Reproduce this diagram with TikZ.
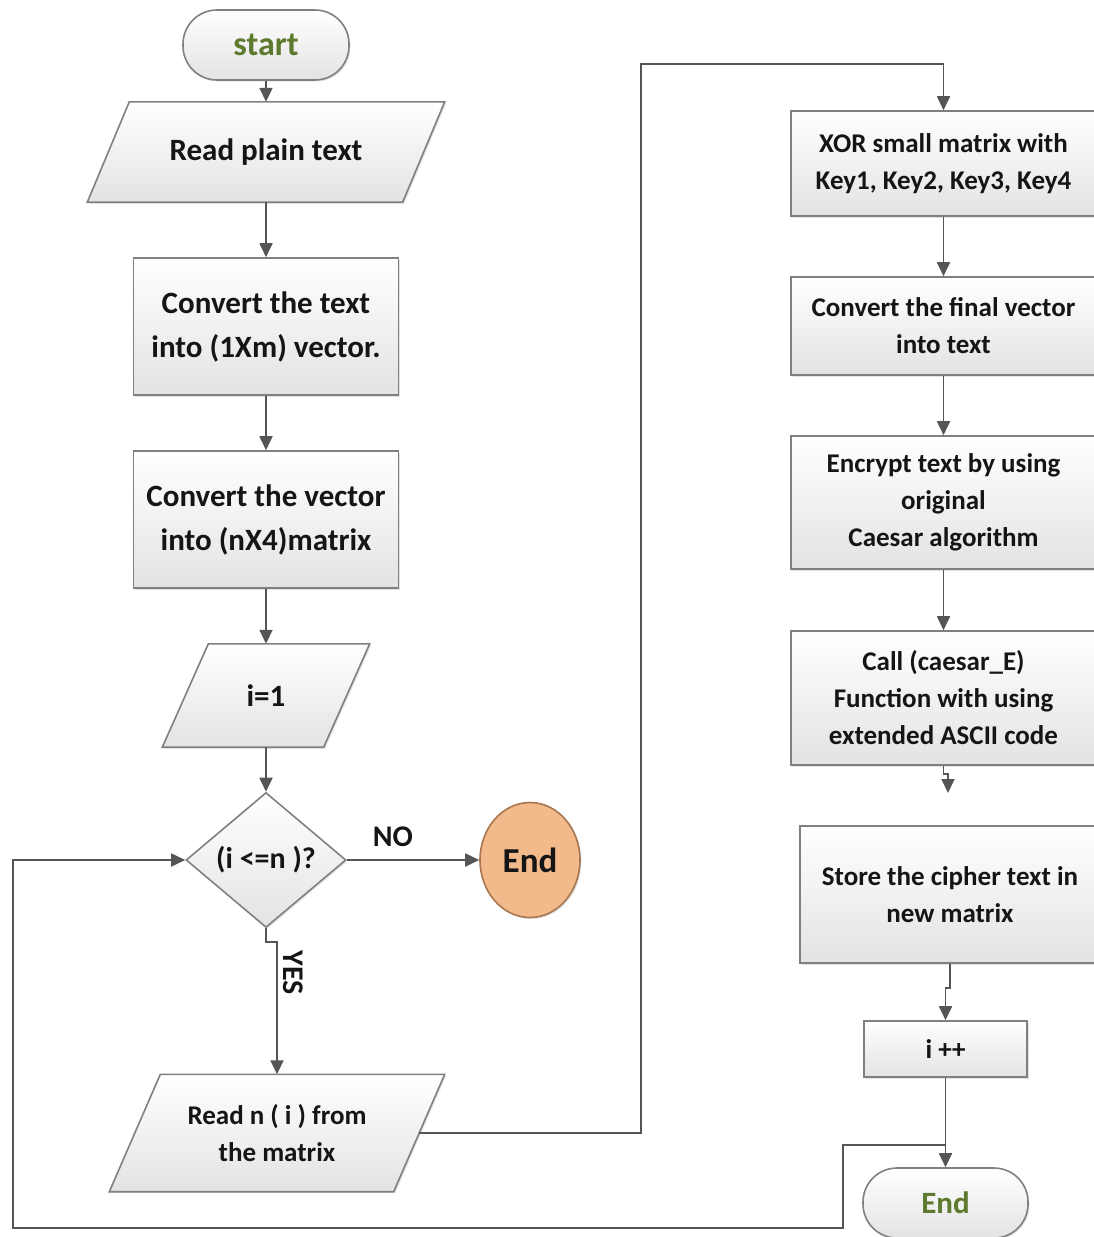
\documentclass[tikz,border=0pt]{standalone}
\usepackage{fontspec}
\setmainfont{Carlito}
\usetikzlibrary{shapes.geometric, arrows.meta, shadows, backgrounds}

\definecolor{linec}{HTML}{555555}
\definecolor{bordc}{HTML}{808080}
\definecolor{txtc}{HTML}{151515}
\definecolor{greent}{HTML}{5E7A2E}
\definecolor{endfill}{HTML}{F2B98A}
\definecolor{endbord}{HTML}{A87650}

\tikzset{
  boxlook/.style={draw=bordc, line width=1.6pt, top color=white, bottom color=black!11,
    drop shadow={opacity=0.22, shadow xshift=1.5pt, shadow yshift=-1.5pt}},
  base/.style={boxlook, text=txtc, font=\bfseries, align=center, inner sep=2pt},
  bigtxt/.style={font=\bfseries\fontsize{31}{44}\selectfont},
  smalltxt/.style={font=\bfseries\fontsize{27}{37}\selectfont},
  procbox/.style={base, rectangle},
  ionode/.style={rectangle, text=txtc, align=center, inner sep=2pt},
  termbox/.style={base, rectangle, rounded corners=34pt, text=greent},
  decbox/.style={base, shape=diamond, inner sep=0pt, shape aspect=1.2},
  arr/.style={draw=linec, line width=1.8pt, -{Triangle[length=14pt,width=13pt]}},
  lbl/.style={text=txtc, font=\bfseries\fontsize{30}{36}\selectfont}
}

% parallelogram frame drawn around a node; #2 = half of the slant offset
\newcommand{\paraframe}[2]{%
  \path[boxlook] ([xshift=-#2]#1.south west) -- ([xshift=#2]#1.north west)
    -- ([xshift=#2]#1.north east) -- ([xshift=-#2]#1.south east) -- cycle;}

\begin{document}
\begin{tikzpicture}[x=1pt,y=-1pt]
\useasboundingbox (0,0) rectangle (1094,1237);

% left column
\node[termbox, minimum width=166pt, minimum height=70pt, font=\bfseries\fontsize{34}{40}\selectfont] (start) at (266,45) {start};
\node[ionode, bigtxt, minimum width=315pt, minimum height=100pt] (rpt) at (266,152) {Read plain text};
\node[procbox, bigtxt, minimum width=265pt, minimum height=137pt] (cv1) at (266,326.5) {Convert the text\\into (1Xm) vector.};
\node[procbox, bigtxt, minimum width=265pt, minimum height=137pt] (cv2) at (266,519.5) {Convert the vector\\into (nX4)matrix};
\node[ionode, bigtxt, minimum width=161pt, minimum height=103pt] (i1) at (266,695.5) {i=1};
\node[decbox, font=\bfseries\fontsize{30}{36}\selectfont, minimum width=160pt, minimum height=135pt] (dec) at (266,860) {(i <=n )?};
\node[shape=ellipse, draw=endbord, fill=endfill, line width=1.6pt, text=txtc,
      font=\bfseries\fontsize{35}{40}\selectfont, minimum width=100pt, minimum height=115pt, inner sep=0pt,
      drop shadow={opacity=0.22, shadow xshift=1.5pt, shadow yshift=-1.5pt}] (endc) at (530,860) {End};
\node[ionode, smalltxt, minimum width=284pt, minimum height=117pt] (rdn) at (277,1133) {Read n ( i ) from\\the matrix};

\begin{scope}[on background layer]
  \paraframe{rpt}{21pt}
  \paraframe{i1}{23pt}
  \paraframe{rdn}{25.5pt}
\end{scope}

% right column
\node[procbox, smalltxt, minimum width=305pt, minimum height=105pt] (xor) at (943.5,163.5) {XOR small matrix with\\Key1, Key2, Key3, Key4};
\node[procbox, smalltxt, minimum width=305pt, minimum height=98pt] (cfv) at (943.5,326) {Convert the final vector\\into text};
\node[procbox, smalltxt, minimum width=305pt, minimum height=133pt] (enc) at (943.5,502.5) {Encrypt text by using\\original\\Caesar algorithm};
\node[procbox, smalltxt, minimum width=305pt, minimum height=134pt] (call) at (943.5,698) {Call (caesar\_E)\\Function with using\\extended ASCII code};
\node[procbox, smalltxt, minimum width=300pt, minimum height=137pt] (store) at (950,894.5) {Store the cipher text in\\new matrix};
\node[procbox, smalltxt, minimum width=163pt, minimum height=56pt] (inc) at (945.5,1049) {i ++};
\node[termbox, minimum width=165pt, minimum height=70pt, font=\bfseries\fontsize{31}{36}\selectfont] (endt) at (945.5,1203) {End};

% coordinates
\coordinate (top) at (641,64);
\coordinate (gap) at (948,793);
\coordinate (br) at (945.5,1145);
\coordinate (lp1) at (843,1228);
\coordinate (lp2) at (13,1228);

% connectors left
\draw[arr] (start.south) -- (rpt.north);
\draw[arr] (rpt.south) -- (cv1.north);
\draw[arr] (cv1.south) -- (cv2.north);
\draw[arr] (cv2.south) -- (i1.north);
\draw[arr] (i1.south) -- (dec.north);
\draw[arr] (dec.east) -- (endc.west);
\draw[arr] (dec.south) -- ++(0,14) -| (rdn.north);
\draw[arr] (rdn.east) -| (top) -| (xor.north);

% connectors right
\draw[arr] (xor.south) -- (cfv.north);
\draw[arr] (cfv.south) -- (enc.north);
\draw[arr] (enc.south) -- (call.north);
\draw[arr] (call.south) -- ++(0,8) -| (gap);
\draw[arr] (store.south) -- ++(0,24) -| (inc.north);
\draw[arr] (inc.south) -- (endt.north);
\draw[arr] (br) -| (lp1) -- (lp2) |- (dec.west);

% labels
\node[lbl] (no) at (393,837) {NO};
\node[lbl, rotate=-90] (yes) at (293,973) {YES};
\end{tikzpicture}
\end{document}
